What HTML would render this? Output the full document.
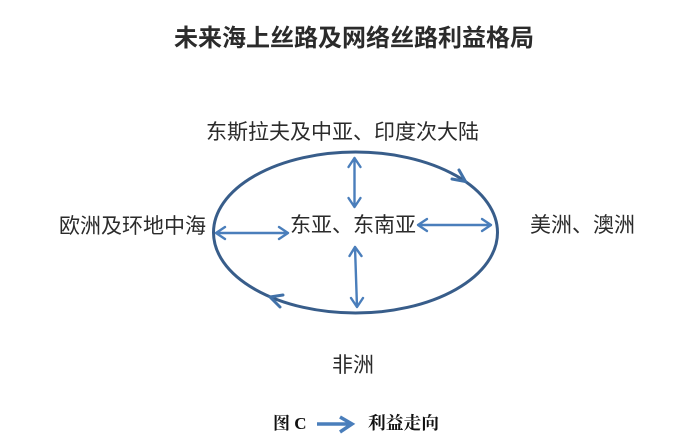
<!DOCTYPE html>
<html>
<head>
<meta charset="utf-8">
<style>
html,body{margin:0;padding:0;background:#fff;}
body{width:686px;height:442px;overflow:hidden;}
svg{display:block;}
.s{font-family:"Liberation Sans","Noto Sans CJK SC",sans-serif;fill:#2b2b2b;}
.b{font-family:"Liberation Serif","Noto Serif CJK SC",serif;font-weight:700;fill:#111;}
.a{stroke:#4a7ebb;stroke-width:2.4;fill:none;stroke-linecap:round;stroke-linejoin:round;}
.e{stroke:#385d8a;stroke-width:3;fill:none;}
.h{stroke:#4171a8;stroke-width:3;fill:none;stroke-linecap:round;stroke-linejoin:round;}
</style>
</head>
<body>
<svg width="686" height="442" viewBox="0 0 686 442" xmlns="http://www.w3.org/2000/svg">
<text class="s" x="174" y="46" font-size="24" font-weight="700">未来海上丝路及网络丝路利益格局</text>
<text class="s" x="206" y="139" font-size="21">东斯拉夫及中亚、印度次大陆</text>
<text class="s" x="59" y="233" font-size="21">欧洲及环地中海</text>
<text class="s" x="290" y="232" font-size="21">东亚、东南亚</text>
<text class="s" x="530" y="232" font-size="21">美洲、澳洲</text>
<text class="s" x="332" y="372" font-size="21">非洲</text>
<ellipse class="e" cx="355.500" cy="232.500" rx="142" ry="80.500"/>
<path class="h" d="M459 170L465.500 181.500L452 179"/>
<path class="h" d="M283 295L270 297L280 307"/>
<path class="a" d="M354.500 158V207M348.500 167L354.500 158L360.500 167M348.500 198L354.500 207L360.500 198"/>
<path class="a" d="M216 233H288M225 227L216 233L225 239M279 227L288 233L279 239"/>
<path class="a" d="M418 225H491M427 219L418 225L427 231M482 219L491 225L482 231"/>
<path class="a" d="M355 247L357 307M349.500 256L355 247L361.500 256M351 298L357 307L363 298"/>
<text class="b" x="273" y="429" font-size="17">图 C</text>
<path d="M317 424H351M340 417L352 424L340 432" fill="none" stroke="#4a7ebb" stroke-width="3.500"/>
<text class="b" x="368" y="429" font-size="17.750">利益走向</text>
</svg>
</body>
</html>
